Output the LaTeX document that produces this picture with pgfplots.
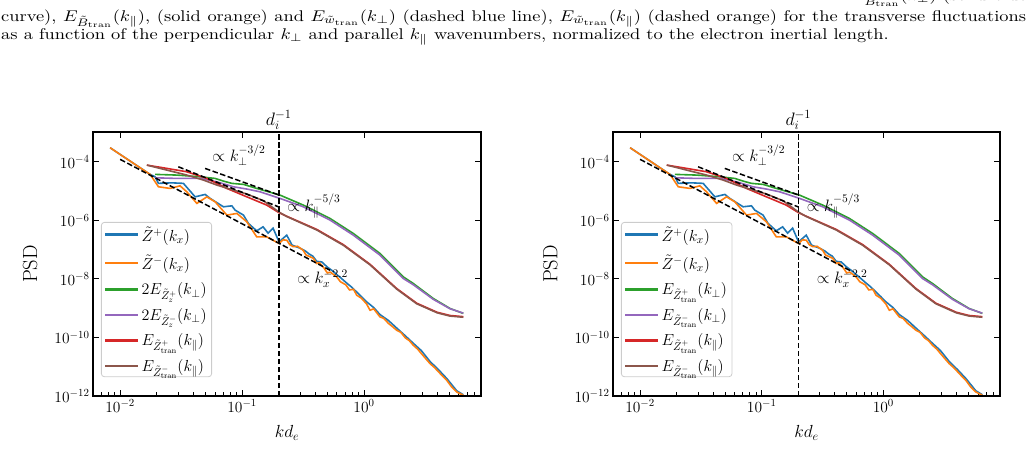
\RequirePackage{fix-cm}
\documentclass[border=0pt]{standalone}
\usepackage{graphicx}
\usepackage{pgfplots}
\pgfplotsset{compat=1.18}
\usepackage{pgfplotstable}

\definecolor{tabblue}{HTML}{1F77B4}
\definecolor{taborange}{HTML}{FF7F0E}
\definecolor{tabgreen}{HTML}{2CA02C}
\definecolor{tabred}{HTML}{D62728}
\definecolor{tabpurple}{HTML}{9467BD}
\definecolor{tabbrown}{HTML}{8C564B}

\newcommand\captext[1]{\scalebox{1.84}[1.55]{\fontsize{10}{12}\selectfont #1}}

\pgfplotstableread{
k P
8.28e-3 3.01e-4
1.762e-2 3.71e-5
1.936e-2 3.07e-5
2.06e-2 1.83e-5
2.65e-2 1.91e-5
3.30e-2 1.83e-5
4.12e-2 6.35e-6
4.98e-2 7.67e-6
5.47e-2 5.61e-6
7.03e-2 2.90e-6
8.24e-2 3.13e-6
8.77e-2 2.23e-6
0.1026 1.51e-6
0.1127 7.83e-7
0.1318 4.38e-7
0.1486 6.00e-7
0.1633 3.65e-7
0.1795 5.41e-7
0.2009 1.84e-7
0.2323 3.12e-7
0.2570 1.42e-7
0.2985 1.12e-7
0.33 9.0e-8
0.3548 7.08e-8
0.38 6.0e-8
0.4093 3.98e-8
0.45 3.8e-8
0.5012 2.51e-8
0.55 1.9e-8
0.597 1.41e-8
0.65 1.05e-8
0.7244 7.08e-9
0.78 5.5e-9
0.871 3.55e-9
0.95 2.5e-9
1.047 1.66e-9
1.2 1.05e-9
1.352 6.03e-10
1.585 3.80e-10
1.854 2.09e-10
2.188 1.12e-10
2.535 6.31e-11
2.951 3.55e-11
3.475 1.51e-11
4.074 7.94e-12
4.764 3.98e-12
5.754 1.51e-12
6.516 1.10e-12
}\zplus

\pgfplotstableread{
k P
8.28e-3 3.01e-4
1.762e-2 3.71e-5
2.06e-2 1.40e-5
2.57e-2 1.23e-5
3.10e-2 1.51e-5
3.52e-2 9.42e-6
4.26e-2 3.78e-6
5.14e-2 6.35e-6
6.01e-2 4.29e-6
7.50e-2 1.51e-6
9.06e-2 1.72e-6
0.1094 8.89e-7
0.1318 2.73e-7
0.1592 2.73e-7
0.2009 1.62e-7
0.2160 2.15e-7
0.2323 2.10e-7
0.2470 1.45e-7
0.263 1.26e-7
0.285 1.30e-7
0.3162 9.57e-8
0.335 6.5e-8
0.3631 5.62e-8
0.385 5.0e-8
0.4093 3.36e-8
0.43 3.6e-8
0.4677 2.40e-8
0.50 1.6e-8
0.53 1.7e-8
0.597 1.17e-8
0.64 8.0e-9
0.7079 6.31e-9
0.76 4.2e-9
0.82 4.4e-9
0.871 2.77e-9
0.95 2.2e-9
1.047 1.41e-9
1.12 8.5e-10
1.2 9.5e-10
1.352 5.02e-10
1.45 4.5e-10
1.585 3.02e-10
1.72 2.3e-10
1.854 1.76e-10
2.0 1.5e-10
2.188 9.55e-11
2.35 7.8e-11
2.535 5.41e-11
2.75 4.0e-11
2.951 2.82e-11
3.2 1.9e-11
3.475 1.28e-11
3.8 9.2e-12
4.074 6.76e-12
4.4 4.8e-12
4.764 3.44e-12
5.2 2.1e-12
5.754 1.37e-12
6.516 1.06e-12
}\zminus

\pgfplotstableread{
k P
1.936e-2 3.71e-5
2.92e-2 3.51e-5
4.53e-2 3.07e-5
6.01e-2 2.70e-5
7.03e-2 2.19e-5
8.24e-2 1.83e-5
0.1026 1.69e-5
0.1318 1.23e-5
0.2046 7.28e-6
0.3177 3.31e-6
0.526 1.16e-6
0.8166 3.56e-7
1.352 7.38e-8
2.099 1.17e-8
2.535 6.97e-9
3.698 2.14e-9
5.070 9.77e-10
6.516 6.61e-10
}\eperpplus

\pgfplotstableread{
k P
1.936e-2 2.84e-5
2.92e-2 2.70e-5
4.53e-2 2.70e-5
6.21e-2 2.07e-5
8.49e-2 1.40e-5
0.1094 1.17e-5
0.1406 9.42e-6
0.2046 5.61e-6
0.3177 2.90e-6
0.526 1.02e-6
0.8166 3.12e-7
1.352 6.46e-8
2.099 1.03e-8
2.535 6.31e-9
3.698 2.00e-9
5.070 9.55e-10
6.516 6.76e-10
}\eperpminus

\pgfplotstableread{
k P
1.656e-2 7.71e-5
2.415e-2 5.94e-5
3.524e-2 4.55e-5
5.14e-2 2.70e-5
7.50e-2 1.23e-5
0.1094 6.35e-6
0.1592 3.31e-6
0.2009 1.82e-6
0.2323 1.38e-6
0.4093 4.90e-7
0.6761 1.48e-7
1.119 3.16e-8
1.854 4.68e-9
2.704 1.48e-9
3.981 7.24e-10
5.070 5.62e-10
6.516 5.13e-10
}\eparplus

\pgfplotstableread{
k P
1.656e-2 7.71e-5
2.415e-2 5.20e-5
3.524e-2 3.51e-5
4.82e-2 2.37e-5
6.21e-2 1.60e-5
8.49e-2 1.08e-5
0.1094 7.94e-6
0.1496 4.68e-6
0.2009 1.91e-6
0.2323 1.35e-6
0.4093 4.68e-7
0.6761 1.41e-7
1.119 3.02e-8
1.854 4.47e-9
2.704 1.41e-9
3.981 6.92e-10
5.070 5.37e-10
6.516 4.90e-10
}\eparminus

\pgfplotsset{legend image code/.code={\draw[#1,line width=2.2pt] (0pt,0pt) -- (33pt,0pt);}}

\newcommand\psdplots{%
  \addplot[tabblue, line width=1.6pt] table[x=k,y=P] {\zplus};
  \addplot[taborange, line width=1.6pt] table[x=k,y=P] {\zminus};
  \addplot[tabgreen, line width=1.6pt] table[x=k,y=P] {\eperpplus};
  \addplot[tabpurple, line width=1.6pt] table[x=k,y=P] {\eperpminus};
  \addplot[tabred, line width=1.6pt] table[x=k,y=P] {\eparplus};
  \addplot[tabbrown, line width=1.6pt] table[x=k,y=P] {\eparminus};
  \addplot[black, line width=1.5pt, dash pattern=on 5.5pt off 2.5pt, forget plot] coordinates {(0.01,1.21e-4) (0.55,1.79e-8)};
  \addplot[black, line width=1.5pt, dash pattern=on 5.5pt off 2.5pt, forget plot] coordinates {(0.0497,5.94e-5) (0.2,7.36e-6)};
  \addplot[black, line width=1.5pt, dash pattern=on 5.5pt off 2.5pt, forget plot] coordinates {(0.030,6.75e-5) (0.2,2.86e-6)};
  \addplot[black, line width=1.5pt, dash pattern=on 5.5pt off 2.5pt, forget plot] coordinates {(0.2,1e-12) (0.2,1.04e-3)};
  \node[anchor=base west, inner sep=0, font=\fontsize{16.5}{18}\selectfont] at (axis cs:0.0568,1.016e-4) {$\propto k_\perp^{-3/2}$};
  \node[anchor=base west, inner sep=0, font=\fontsize{16.5}{18}\selectfont] at (axis cs:0.234,2.07e-6) {$\propto k_\parallel^{-5/3}$};
  \node[anchor=base west, inner sep=0, font=\fontsize{16.5}{18}\selectfont] at (axis cs:0.2825,6.97e-9) {$\propto k_x^{-2.2}$};
  \node[anchor=base, inner sep=0, yshift=7pt, font=\fontsize{18}{20}\selectfont] at (axis cs:0.2,1.04e-3) {$d_i^{-1}$};
}

\begin{document}
\begin{tikzpicture}
\useasboundingbox (0,0) rectangle (1034pt,476pt);
\node[anchor=base east, inner sep=0] at (1027pt,475.5pt) {\captext{$E_{\tilde{B}_{\mathrm{tran}}}(k_\perp)$ (solid blue}};
\node[anchor=base west, inner sep=0] at (1pt,454.5pt) {\captext{\makebox[557pt][s]{curve), $E_{\tilde{B}_{\mathrm{tran}}}(k_\parallel)$, (solid orange) and $E_{\tilde{w}_{\mathrm{tran}}}(k_\perp)$ (dashed blue line), $E_{\tilde{w}_{\mathrm{tran}}}(k_\parallel)$ (dashed orange) for the transverse fluctuations}}};
\node[anchor=base west, inner sep=0] at (1pt,436.5pt) {\captext{as a function of the perpendicular $k_\perp$ and parallel $k_\parallel$ wavenumbers, normalized to the electron inertial length.}};

\begin{axis}[at={(93pt,80pt)}, anchor=south west, scale only axis, width=388pt, height=264pt,
    xmode=log, ymode=log,
    xmin=0.00599, xmax=9.1, ymin=1e-12, ymax=1.04e-3,
    xtick={0.01,0.1,1},
    ytick={1e-12,1e-10,1e-8,1e-6,1e-4},
    minor xtick={0.006,0.007,0.008,0.009,0.02,0.03,0.04,0.05,0.06,0.07,0.08,0.09,0.2,0.3,0.4,0.5,0.6,0.7,0.8,0.9,2,3,4,5,6,7,8,9},
    tick align=inside, xtick pos=left, ytick pos=both,
    major tick length=6.5pt, minor tick length=3.8pt,
    tick style={black, line width=1pt},
    axis line style={line width=1.2pt},
    tick label style={font=\fontsize{15.5}{16}\selectfont},
    xlabel={$kd_e$}, ylabel={PSD},
    xlabel style={font=\fontsize{17.5}{20}\selectfont, at={(axis description cs:0.5,-0.1402)}, anchor=center},
    ylabel style={font=\fontsize{20.5}{22}\selectfont, at={(axis description cs:-0.162,0.5)}, anchor=center},
    clip=false,
    legend cell align=left,
    legend style={at={(axis description cs:0.0206,0.6591)}, anchor=north west,
      draw=black!20, line width=0.8pt, rounded corners=3pt, fill=white,
      fill opacity=0.8, text opacity=1,
      font=\fontsize{16}{17}\selectfont, row sep=8pt}]
\psdplots
\legend{$\tilde{Z}^+(k_x)$, $\tilde{Z}^-(k_x)$, $2E_{\tilde{Z}_z^+}(k_\perp)$, $2E_{\tilde{Z}_z^-}(k_\perp)$, $E_{\tilde{Z}^+_{\mathrm{tran}}}(k_\parallel)$, $E_{\tilde{Z}^-_{\mathrm{tran}}}(k_\parallel)$}
\end{axis}
\begin{axis}[at={(93pt,80pt)}, anchor=south west, scale only axis, width=388pt, height=264pt,
    xmode=log, ymode=log,
    xmin=0.00599, xmax=9.1, ymin=1e-12, ymax=1.04e-3,
    xtick={0.01,0.1,1}, xticklabels={}, xminorticks=false, ytick=\empty,
    tick align=inside, xtick pos=right,
    major tick length=6.5pt,
    tick style={black, line width=1pt},
    axis line style={line width=1.2pt}]
\end{axis}

\begin{axis}[at={(613pt,80pt)}, anchor=south west, scale only axis, width=387pt, height=264pt,
    xmode=log, ymode=log,
    xmin=0.00599, xmax=9.1, ymin=1e-12, ymax=1.04e-3,
    xtick={0.01,0.1,1},
    ytick={1e-12,1e-10,1e-8,1e-6,1e-4},
    minor xtick={0.006,0.007,0.008,0.009,0.02,0.03,0.04,0.05,0.06,0.07,0.08,0.09,0.2,0.3,0.4,0.5,0.6,0.7,0.8,0.9,2,3,4,5,6,7,8,9},
    tick align=inside, xtick pos=left, ytick pos=both,
    major tick length=6.5pt, minor tick length=3.8pt,
    tick style={black, line width=1pt},
    axis line style={line width=1.2pt},
    tick label style={font=\fontsize{15.5}{16}\selectfont},
    xlabel={$kd_e$}, ylabel={PSD},
    xlabel style={font=\fontsize{17.5}{20}\selectfont, at={(axis description cs:0.5,-0.1402)}, anchor=center},
    ylabel style={font=\fontsize{20.5}{22}\selectfont, at={(axis description cs:-0.162,0.5)}, anchor=center},
    clip=false,
    legend cell align=left,
    legend style={at={(axis description cs:0.0206,0.6591)}, anchor=north west,
      draw=black!20, line width=0.8pt, rounded corners=3pt, fill=white,
      fill opacity=0.8, text opacity=1,
      font=\fontsize{16}{17}\selectfont, row sep=8pt}]
\psdplots
\legend{$\tilde{Z}^+(k_x)$, $\tilde{Z}^-(k_x)$, $E_{\tilde{Z}^+_{\mathrm{tran}}}(k_\perp)$, $E_{\tilde{Z}^-_{\mathrm{tran}}}(k_\perp)$, $E_{\tilde{Z}^+_{\mathrm{tran}}}(k_\parallel)$, $E_{\tilde{Z}^-_{\mathrm{tran}}}(k_\parallel)$}
\end{axis}
\begin{axis}[at={(613pt,80pt)}, anchor=south west, scale only axis, width=387pt, height=264pt,
    xmode=log, ymode=log,
    xmin=0.00599, xmax=9.1, ymin=1e-12, ymax=1.04e-3,
    xtick={0.01,0.1,1}, xticklabels={}, xminorticks=false, ytick=\empty,
    tick align=inside, xtick pos=right,
    major tick length=6.5pt,
    tick style={black, line width=1pt},
    axis line style={line width=1.2pt}]
\end{axis}
\end{tikzpicture}
\end{document}
